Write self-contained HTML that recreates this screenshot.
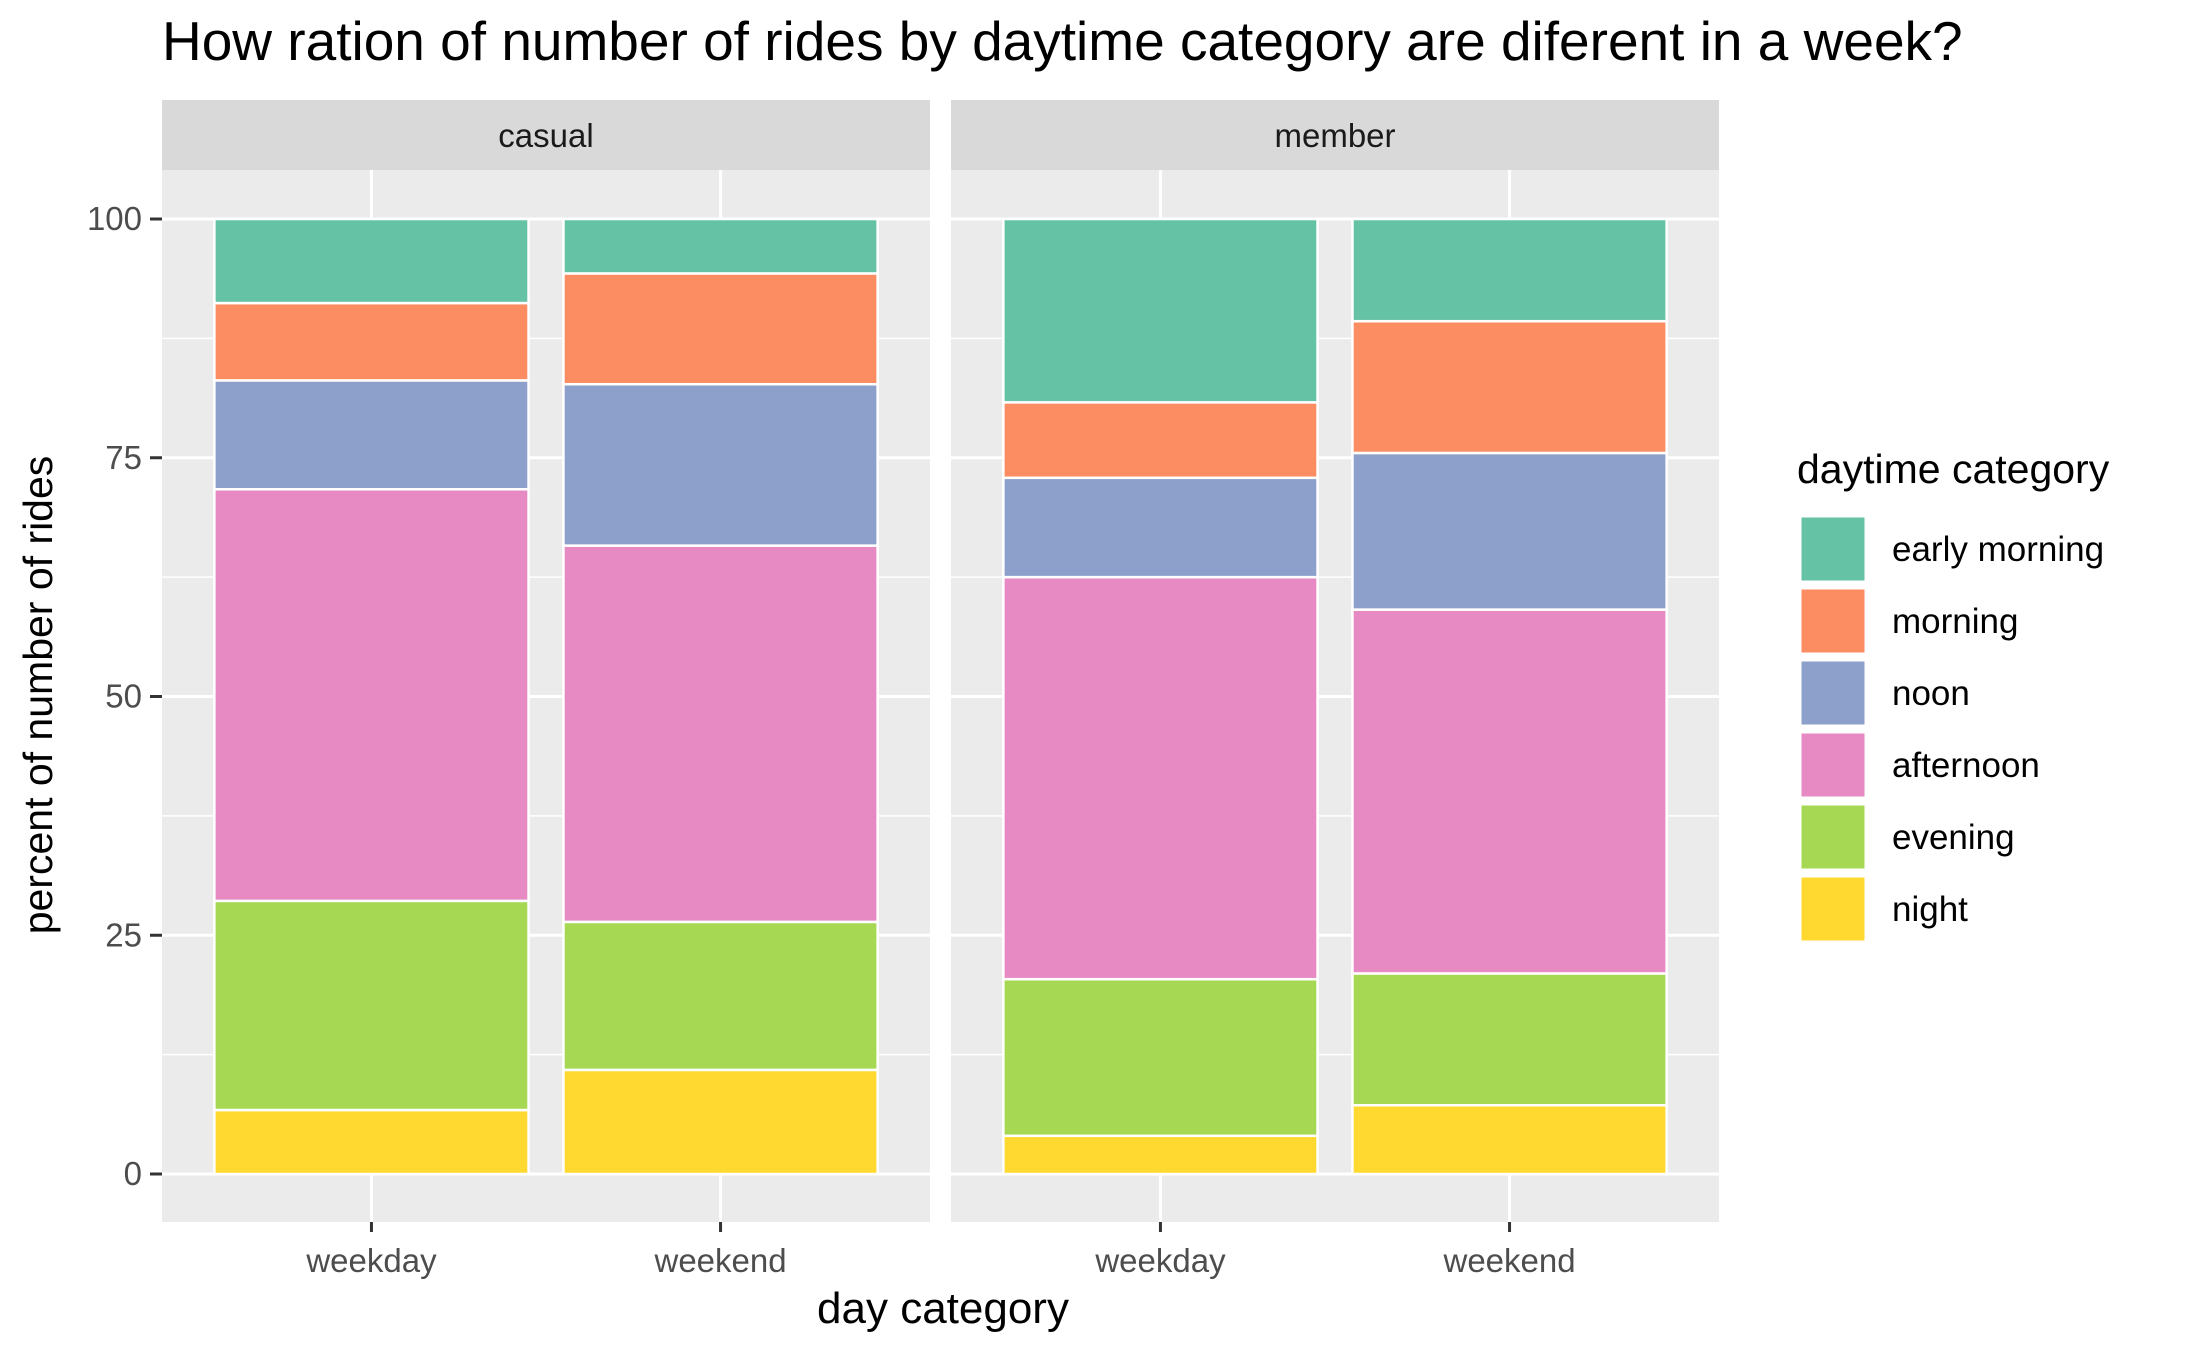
<!DOCTYPE html>
<html><head><meta charset="utf-8"><style>
html,body{margin:0;padding:0;background:#fff;}
svg{display:block;font-family:"Liberation Sans",Arial,sans-serif;}
</style></head><body>
<svg id="chart" width="2187" height="1350" viewBox="0 0 2187 1350">
<text x="162" y="60" font-size="55" fill="#000">How ration of number of rides by daytime category are diferent in a week?</text>
<g id="panels"></g>
<text x="52" y="695" font-size="41" fill="#000" text-anchor="middle" transform="rotate(-90 52 695)">percent of number of rides</text>
<text x="943" y="1323" font-size="44" fill="#000" text-anchor="middle">day category</text>
<g id="legend">
<text x="1797" y="483" font-size="41" fill="#000">daytime category</text>
</g>
</svg>
<script>
const facets = ["casual", "member"];
const dayCategories = ["weekday", "weekend"];
const daytimeCategories = ["early morning", "morning", "noon", "afternoon", "evening", "night"];
const colors = ["#66c2a5", "#fc8d62", "#8da0cb", "#e78ac3", "#a6d854", "#ffd92f"];
// percentages per stack, order: early morning, morning, noon, afternoon, evening, night
const casualWeekday = [8.8, 8.1, 11.4, 43.1, 21.9, 6.7];
const casualWeekend = [5.7, 11.6, 16.9, 39.4, 15.5, 10.9];
const memberWeekday = [19.2, 7.9, 10.4, 42.1, 16.4, 4.0];
const memberWeekend = [10.7, 13.8, 16.4, 38.1, 13.8, 7.2];
const yTicks = [0, 25, 50, 75, 100];
const seriesByFacet = [[casualWeekday, casualWeekend], [memberWeekday, memberWeekend]];

const NS = "http://www.w3.org/2000/svg";
const svg = document.getElementById("chart");
const panelsG = document.getElementById("panels");
const panelLefts = [162, 951], panelW = 768, panelTop = 170, panelBot = 1222, stripTop = 100;
function y(v){ return 1174 + (v - 0) * (219 - 1174) / 100; }
function x(i, left){ return left + (i + 1 - 0.4) / 2.2 * panelW; }
const bandW = panelW / 2.2;
function mk(tag, attrs, parent){ const e = document.createElementNS(NS, tag); for (const k in attrs) e.setAttribute(k, attrs[k]); parent.appendChild(e); return e; }

facets.forEach((f, fi) => {
  const L = panelLefts[fi];
  const g = mk("g", {}, panelsG);
  
  
  const strip = mk("rect", {x: L, y: stripTop, width: panelW, height: panelTop - stripTop, fill: "#d9d9d9"}, g);
  
  
  const st = mk("text", {x: L + panelW / 2, y: 147, "font-size": 33, fill: "#1a1a1a", "text-anchor": "middle"}, g);
  st.textContent = f;
  
  
  const bg = mk("rect", {x: L, y: panelTop, width: panelW, height: panelBot - panelTop, fill: "#ebebeb"}, g);
  
  
  for (let i = 0; i < yTicks.length - 1; i++) {
    const mv = (yTicks[i] + yTicks[i + 1]) / 2;
    const ml = mk("line", {x1: L, x2: L + panelW, y1: y(mv), y2: y(mv), stroke: "#fff", "stroke-width": 1.5}, g);
    
    
  }
  yTicks.forEach(t => {
    const gl = mk("line", {x1: L, x2: L + panelW, y1: y(t), y2: y(t), stroke: "#fff", "stroke-width": 3}, g);
    
    
  });
  dayCategories.forEach((d, di) => {
    const cx = x(di, L);
    const vl = mk("line", {x1: cx, x2: cx, y1: panelTop, y2: panelBot, stroke: "#fff", "stroke-width": 3}, g);
    
    
    const tk = mk("line", {x1: cx, x2: cx, y1: panelBot, y2: panelBot + 10, stroke: "#333", "stroke-width": 3}, g);
    
    
    const tl = mk("text", {x: cx, y: 1272, "font-size": 33, fill: "#4d4d4d", "text-anchor": "middle"}, g);
    tl.textContent = d;
    
    
    const vals = seriesByFacet[fi][di];
    const total = vals.reduce((a, b) => a + b, 0);
    let cum = 0;
    for (let s = vals.length - 1; s >= 0; s--) {
      const v0 = cum / total * 100, v1 = (cum + vals[s]) / total * 100;
      cum += vals[s];
      const r = mk("rect", {x: cx - bandW * 0.45, y: y(v1), width: bandW * 0.9, height: y(v0) - y(v1), fill: colors[s], stroke: "#fff", "stroke-width": 2.5}, g);
      
      
    }
  });
});
yTicks.forEach(t => {
  const tk = mk("line", {x1: 150, x2: 162, y1: y(t), y2: y(t), stroke: "#333", "stroke-width": 3}, svg);
  
  
  const tl = mk("text", {x: 142, y: y(t) + 11, "font-size": 33, fill: "#4d4d4d", "text-anchor": "end"}, svg);
  tl.textContent = t;
  
  
});
const lg = document.getElementById("legend");
daytimeCategories.forEach((c, i) => {
  const ty = 516 + i * 72;
  const k = mk("rect", {x: 1800, y: ty, width: 66, height: 66, fill: colors[i], stroke: "#fff", "stroke-width": 3}, lg);
  
  
  const t = mk("text", {x: 1892, y: ty + 45, "font-size": 35, fill: "#000"}, lg);
  t.textContent = c;
  
  
});
</script>
</body></html>
